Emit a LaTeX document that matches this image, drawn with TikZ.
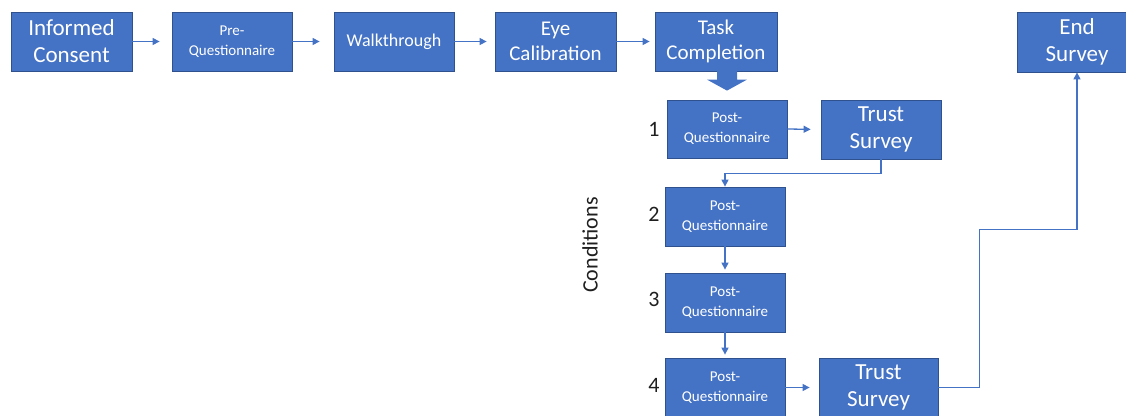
\documentclass[tikz,border=0pt]{standalone}
\usepackage{fontspec}
\setmainfont{Carlito}
\usetikzlibrary{arrows.meta,calc}
\definecolor{boxblue}{HTML}{4472C4}
\definecolor{boxedge}{HTML}{2F528F}
\definecolor{linkblue}{HTML}{4472C4}
\definecolor{labelgray}{HTML}{1F1F1F}
\begin{document}
\begin{tikzpicture}[x=1pt,y=-1pt,
  box/.style={draw=boxedge, line width=0.8pt, fill=boxblue, text=white, inner sep=0pt,
    align=center, minimum width=120pt, minimum height=59pt},
  bigtxt/.style={font=\fontsize{23}{27}\selectfont},
  midtxt/.style={font=\fontsize{21}{25}\selectfont},
  walktxt/.style={font=\fontsize{18}{22}\selectfont},
  smalltxt/.style={font=\fontsize{15}{20}\selectfont},
  lbl/.style={text=labelgray, font=\fontsize{22}{26}\selectfont, inner sep=0pt},
  link/.style={draw=linkblue, line width=1.3pt, -{Triangle[length=7pt,width=7pt]}}]
\useasboundingbox (0,0) rectangle (1126,415);
\clip (0,0) rectangle (1126,415);
% top row
\node[box,bigtxt,minimum width=121pt] (ic) at (71.5,41.5) {Informed\\Consent};
\node[box,smalltxt] (preq) at (232,41.5) {Pre-\\Questionnaire};
\node[box,walktxt] (walk) at (394,41.5) {Walkthrough};
\node[box,midtxt,minimum width=121pt] (eye) at (555.5,41.5) {Eye\\Calibration};
\node[box,midtxt,minimum width=122pt] (task) at (716,41.5) {Task\\Completion};
\node[box,bigtxt,minimum height=60pt] (end) at (1077,42) {End\\Survey};
% conditions column
\node[box,smalltxt,minimum height=58pt] (pq1) at (727,129) {Post-\\Questionnaire};
\node[box,bigtxt] (ts1) at (881,129.5) {Trust\\Survey};
\node[box,smalltxt] (pq2) at (725,216.5) {Post-\\Questionnaire};
\node[box,smalltxt] (pq3) at (725,302.5) {Post-\\Questionnaire};
\node[box,smalltxt] (pq4) at (725,387.5) {Post-\\Questionnaire};
\node[box,bigtxt,minimum width=119pt] (ts2) at (878.5,387.5) {Trust\\Survey};
% labels
\node[lbl] (l1) at (654,129) {1};
\node[lbl] (l2) at (654,214) {2};
\node[lbl] (l3) at (654,299) {3};
\node[lbl] (l4) at (654,385) {4};
\node[lbl,rotate=90] (cond) at (590,245) {Conditions};
% connectors
\draw[link,shorten >=12pt] (ic.east) -- (preq.west);
\draw[link,shorten >=14pt] (preq.east) -- (walk.west);
\draw[link,shorten >=8pt] (walk.east) -- (eye.west);
\draw[link,shorten >=5pt] (eye.east) -- (task.west);
\draw[link,shorten >=10pt] (pq1.east) -- (ts1.west);
\draw[link] (ts1.south) -- ++(0,14) -| (pq2.north);
\draw[link,shorten >=3pt] (pq2.south) -- (pq3.north);
\draw[link,shorten >=3pt] (pq3.south) -- (pq4.north);
\draw[link,shorten >=9pt] (pq4.east) -- (ts2.west);
\draw[link] (ts2.east) -- ++(41,0) |- ($(end.south)+(0,157)$) -- (end.south);
% block arrow from Task Completion to first condition
\fill[boxblue] ($(pq1.north)+(-10,-29)$) -- ($(pq1.north)+(10,-29)$)
  -- ($(pq1.north)+(10,-20)$) -- ($(pq1.north)+(20,-20)$)
  -- ($(pq1.north)+(0,-9)$) -- ($(pq1.north)+(-20,-20)$)
  -- ($(pq1.north)+(-10,-20)$) -- cycle;
\end{tikzpicture}
\end{document}
